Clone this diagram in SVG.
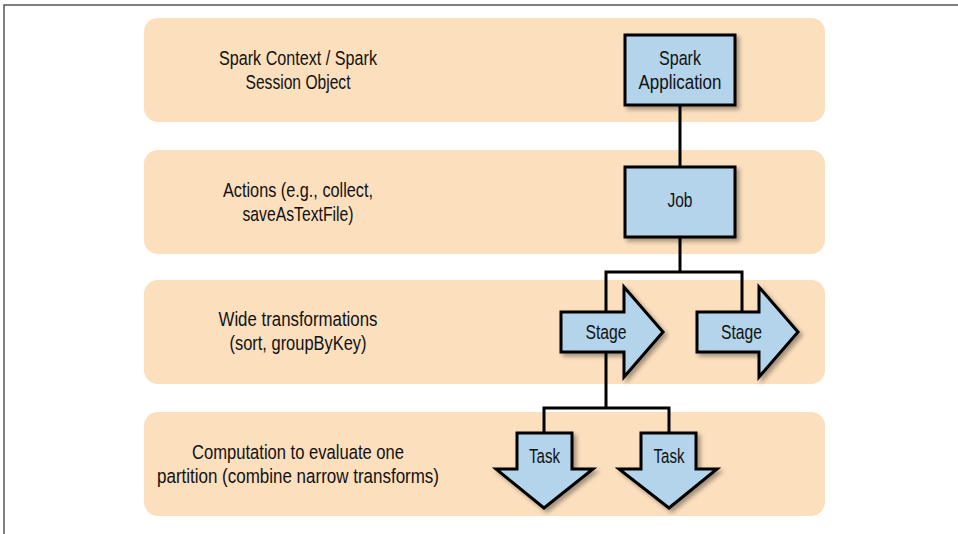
<svg xmlns="http://www.w3.org/2000/svg" width="958" height="534" viewBox="0 0 958 534">
<defs>
<filter id="sh" x="-20%" y="-20%" width="150%" height="150%">
<feDropShadow dx="3" dy="3" stdDeviation="2" flood-color="#000" flood-opacity="0.35"/>
</filter>
<style>
.band{fill:#fcdfbd}
.node{fill:#b3d4ea;stroke:#000;stroke-width:3;stroke-linejoin:miter;filter:url(#sh)}
.lbl{font-family:'Liberation Sans',Arial,sans-serif;font-size:20.5px;fill:#111;text-anchor:middle}
.conn{fill:none;stroke:#000;stroke-width:3}
</style>
</defs>
<rect x="0" y="0" width="958" height="534" fill="#fff"/>
<rect x="4" y="5" width="980" height="560" fill="none" stroke="#555" stroke-width="1.5"/>
<g id="bands">
<g id="band1"><rect class="band" x="144" y="18" width="681" height="104" rx="14"/>
<text class="lbl" x="298" y="65" textLength="158" lengthAdjust="spacingAndGlyphs">Spark Context / Spark</text><text class="lbl" x="298" y="89" textLength="105" lengthAdjust="spacingAndGlyphs">Session Object</text></g>
<g id="band2"><rect class="band" x="144" y="150" width="681" height="104" rx="14"/>
<text class="lbl" x="298" y="197" textLength="150" lengthAdjust="spacingAndGlyphs">Actions (e.g., collect,</text><text class="lbl" x="298" y="221" textLength="111" lengthAdjust="spacingAndGlyphs">saveAsTextFile)</text></g>
<g id="band3"><rect class="band" x="144" y="280" width="681" height="104" rx="14"/>
<text class="lbl" x="298" y="326" textLength="159" lengthAdjust="spacingAndGlyphs">Wide transformations</text><text class="lbl" x="298" y="350" textLength="137" lengthAdjust="spacingAndGlyphs">(sort, groupByKey)</text></g>
<g id="band4"><rect class="band" x="144" y="412" width="681" height="104" rx="14"/>
<text class="lbl" x="298" y="459" textLength="212" lengthAdjust="spacingAndGlyphs">Computation to evaluate one</text><text class="lbl" x="298" y="483" textLength="282" lengthAdjust="spacingAndGlyphs">partition (combine narrow transforms)</text></g>
</g>
<g id="connectors">
<path class="conn" d="M680 105V167"/>
<path class="conn" d="M680 237V272M606 312V272H742V312"/>
<path class="conn" d="M606 352V408M544 433V408H669V433"/>
</g>
<g id="app"><rect class="node" x="625" y="35" width="110" height="70"/>
<text class="lbl" x="680" y="65" textLength="42" lengthAdjust="spacingAndGlyphs">Spark</text><text class="lbl" x="680" y="89" textLength="83" lengthAdjust="spacingAndGlyphs">Application</text></g>
<g id="job"><rect class="node" x="625" y="167" width="110" height="70"/>
<text class="lbl" x="680" y="207" textLength="25" lengthAdjust="spacingAndGlyphs">Job</text></g>
<g id="stage1"><path class="node" d="M561 312H624V287L663 332L624 377V352H561Z"/>
<text class="lbl" x="606" y="339" textLength="41" lengthAdjust="spacingAndGlyphs">Stage</text></g>
<g id="stage2"><path class="node" d="M697 312H759V287L798 332L759 377V352H697Z"/>
<text class="lbl" x="741.5" y="339" textLength="41" lengthAdjust="spacingAndGlyphs">Stage</text></g>
<g id="task1"><path class="node" d="M517 433H572V469H593L544 508L496 469H517Z"/>
<text class="lbl" x="544.5" y="463" textLength="31" lengthAdjust="spacingAndGlyphs">Task</text></g>
<g id="task2"><path class="node" d="M641 433H696V469H717L669 508L619 469H641Z"/>
<text class="lbl" x="669" y="463" textLength="31" lengthAdjust="spacingAndGlyphs">Task</text></g>
</svg>
